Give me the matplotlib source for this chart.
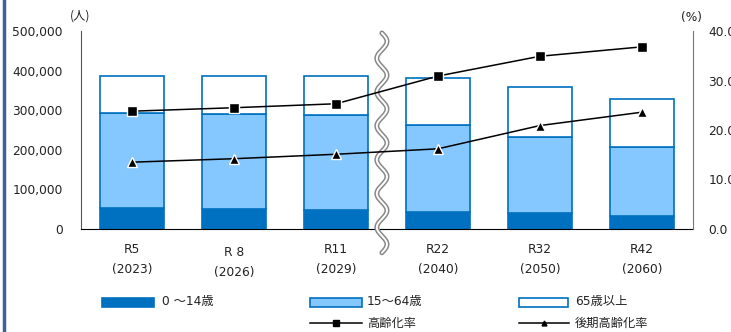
import matplotlib
matplotlib.use("Agg")
import matplotlib.pyplot as plt
import numpy as np
from matplotlib.patches import Rectangle
from matplotlib.lines import Line2D
import matplotlib.transforms as mtransforms

plt.rcParams['font.family'] = ['DejaVu Sans', 'Noto Sans CJK JP']

# データ
labels = ["R5\n(2023)", "R 8\n(2026)", "R11\n(2029)", "R22\n(2040)", "R32\n(2050)", "R42\n(2060)"]
age_0_14 = [54000, 51000, 48500, 42000, 39500, 34000]
age_15_64 = [240000, 240500, 240000, 221000, 194000, 174000]
age_65 = [92000, 94500, 98000, 117500, 124000, 119500]
aging_rate = [23.8, 24.5, 25.3, 30.9, 34.9, 36.8]
late_aging_rate = [13.5, 14.2, 15.1, 16.2, 20.9, 23.6]

dark = "#0070C0"
light = "#85C7FF"
txt = "#222222"
fs = 8.8

fig = plt.figure(figsize=(7.31, 3.32), dpi=100)
ax = fig.add_axes([81 / 731, 1 - 229 / 332, 612 / 731, 198 / 332])
x = np.arange(len(labels))
w = 0.62

b1 = np.array(age_0_14)
b2 = b1 + np.array(age_15_64)
ax.bar(x, age_0_14, w, color=dark, edgecolor=dark, linewidth=1.2, zorder=2)
ax.bar(x, age_15_64, w, bottom=b1, color=light, edgecolor=dark, linewidth=1.2, zorder=2)
ax.bar(x, age_65, w, bottom=b2, color="white", edgecolor=dark, linewidth=1.2, zorder=2)

ax.set_xlim(-0.5, len(labels) - 0.5)
ax.set_ylim(0, 500000)
ax.set_yticks(np.arange(0, 500001, 100000))
ax.set_yticklabels([f"{v:,}" for v in range(0, 500001, 100000)], fontsize=fs, color=txt)
ax.set_xticks(x)
ax.set_xticklabels(labels, fontsize=fs, color=txt, linespacing=1.75)
ax.tick_params(axis="y", length=0, pad=13)
ax.tick_params(axis="x", length=0, pad=10)
ax.spines["top"].set_visible(False)
ax.spines["right"].set_visible(False)
ax.spines["left"].set_color("#555555")
ax.spines["bottom"].set_color("black")
# R 8 のラベルだけ少し下
lab = ax.get_xticklabels()[1]
lab.set_transform(lab.get_transform() + mtransforms.ScaledTranslation(0, -3 / 100, fig.dpi_scale_trans))

ax2 = ax.twinx()
ax2.set_ylim(0, 40)
ax2.set_yticks(np.arange(0, 41, 10))
ax2.set_yticklabels([f"{v:.1f}" for v in range(0, 41, 10)], fontsize=fs, color=txt)
ax2.tick_params(axis="y", length=0, pad=11)
for s in ["top", "left", "bottom"]:
    ax2.spines[s].set_visible(False)
ax2.spines["right"].set_color("#777777")

ax2.plot(x, aging_rate, color="black", lw=1.1, marker="s", ms=7.5,
         mfc="black", mec="white", mew=1, zorder=4)
ax2.plot(x, late_aging_rate, color="black", lw=1.1, marker="^", ms=7.5,
         mfc="black", mec="white", mew=1, zorder=4)

# 波線（省略記号）
trans = mtransforms.blended_transform_factory(ax.transData, ax.transAxes)
t = np.linspace(0, 1, 300)
wy = 0.99 - t * 1.11
wx = 2.45 + 0.05 * np.sin(t * 2 * np.pi * 6.5)
ax.plot(wx, wy, color="#888888", lw=3.6, transform=trans, clip_on=False,
        solid_capstyle="round", zorder=5)
ax.plot(wx, wy, color="white", lw=1.4, transform=trans, clip_on=False,
        solid_capstyle="round", zorder=6)

fig.text(70 / 731, 1 - 16 / 332, "(人)", fontsize=fs, color=txt, va="center",
         family=['Noto Sans CJK JP'])
fig.text(681 / 731, 1 - 17 / 332, "(%)", fontsize=fs, color=txt, va="center")

# 左の縦線
fig.add_artist(Line2D([4 / 731, 4 / 731], [0, 1], color="#3f5f9f", lw=2.5))

# 凡例（手描き）
def fx(px):
    return px / 731

def fy(py):
    return 1 - py / 332

def box(x0, x1, yc, face):
    fig.add_artist(Rectangle((fx(x0), fy(yc + 4.5)), fx(x1 - x0), 9 / 332,
                             facecolor=face, edgecolor=dark, lw=1.2,
                             transform=fig.transFigure))

def leg_line(x0, x1, yc, marker, ms):
    fig.add_artist(Line2D([fx(x0), fx(x1)], [fy(yc), fy(yc)], color="black", lw=1.1))
    fig.add_artist(Line2D([fx((x0 + x1) / 2)], [fy(yc)], color="black",
                          marker=marker, ms=ms, lw=0))

r1, r2 = 302, 323
box(102, 154, r1, dark)
fig.text(fx(162), fy(r1), "0 ～14歳", fontsize=fs, color=txt, va="center")
box(310, 362, r1, light)
fig.text(fx(367), fy(r1), "15～64歳", fontsize=fs, color=txt, va="center")
box(519, 568, r1, "white")
fig.text(fx(575), fy(r1), "65歳以上", fontsize=fs, color=txt, va="center")
leg_line(310, 362, r2, "s", 4.5)
fig.text(fx(367), fy(r2), "高齢化率", fontsize=fs, color=txt, va="center")
leg_line(519, 569, r2, "^", 3.5)
fig.text(fx(575), fy(r2), "後期高齢化率", fontsize=fs, color=txt, va="center")

fig.savefig("out.png", dpi=100)
